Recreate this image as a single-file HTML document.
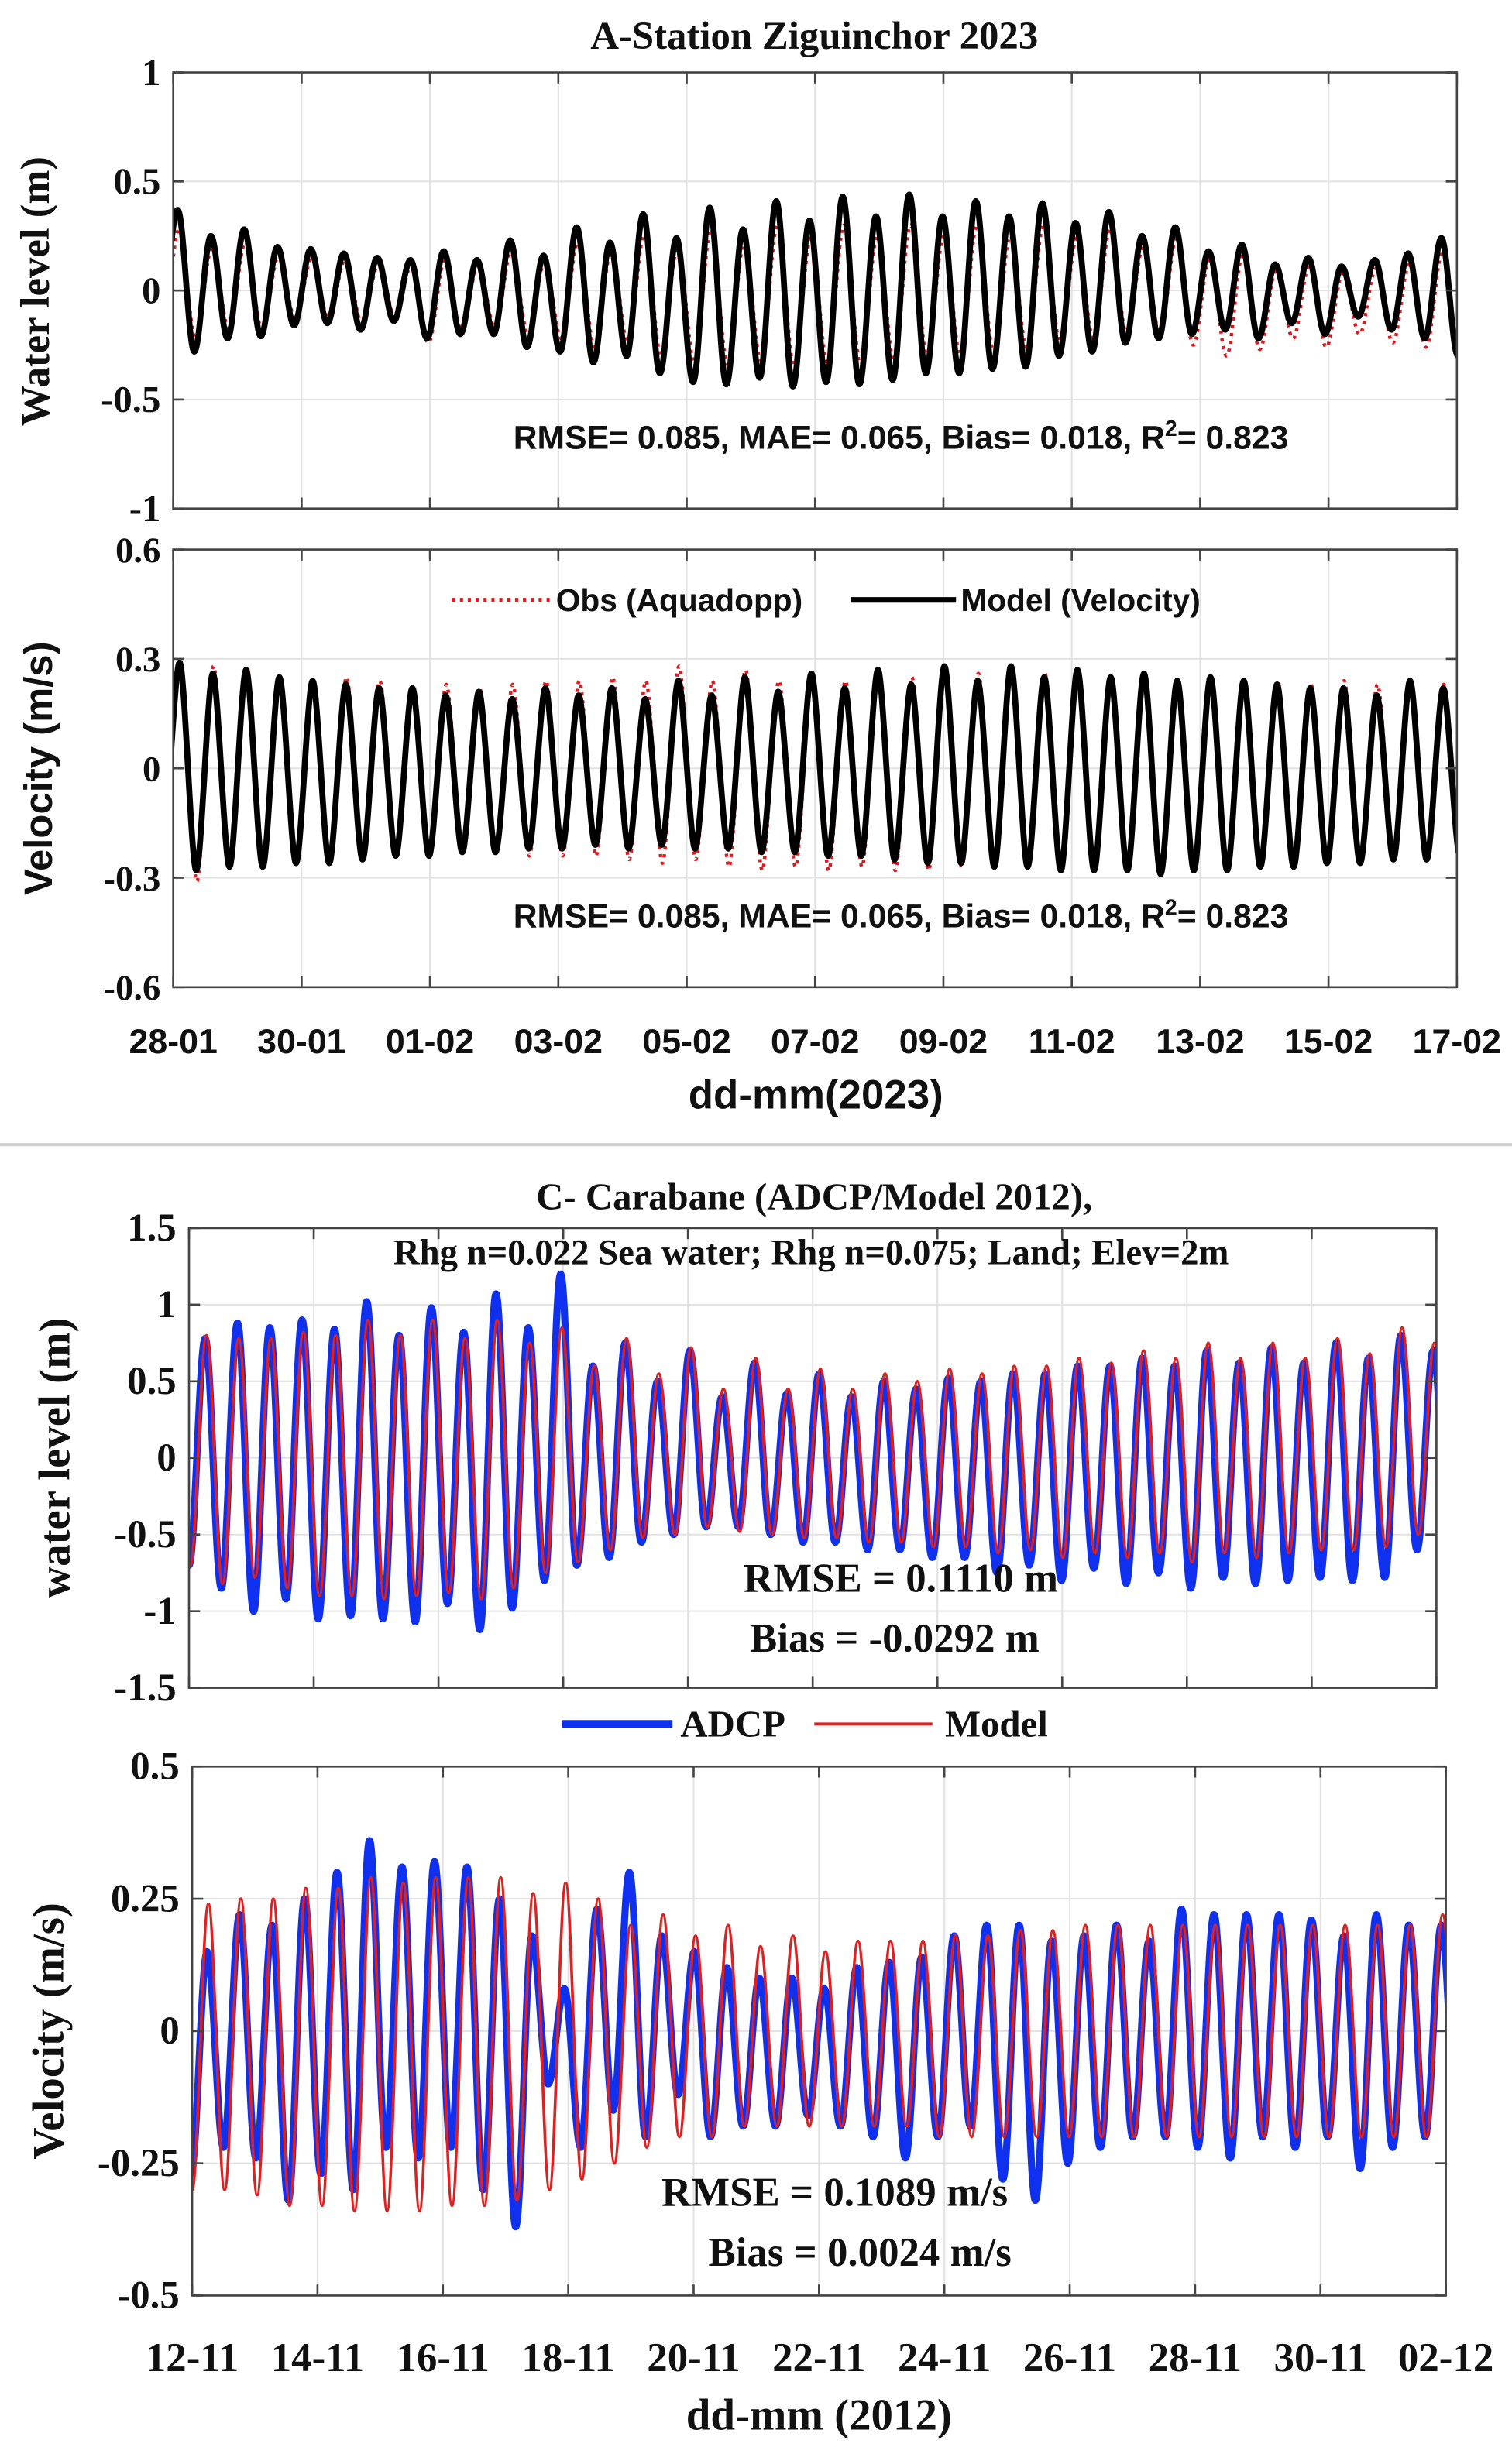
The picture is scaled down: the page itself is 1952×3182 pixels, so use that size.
<!DOCTYPE html>
<html><head><meta charset="utf-8"><style>
html,body{margin:0;padding:0;background:#fff;}
svg{display:block;}
.ser{font-family:"Liberation Serif",serif;font-weight:bold;}
.san{font-family:"Liberation Sans",sans-serif;font-weight:bold;}
</style></head><body>
<svg id="fig" xmlns="http://www.w3.org/2000/svg" width="1952" height="3182" viewBox="0 0 960 1565" preserveAspectRatio="none">
<rect x="0" y="0" width="960" height="1565" fill="#fff"/>
<line x1="0" y1="727" x2="960" y2="727" stroke="#d0d0d0" stroke-width="2"/>
<g id="layer"></g>
</svg>
<script>
// ---------- data ----------
const xTicksA = ["28-01","30-01","01-02","03-02","05-02","07-02","09-02","11-02","13-02","15-02","17-02"];
const xTicksC = ["12-11","14-11","16-11","18-11","20-11","22-11","24-11","26-11","28-11","30-11","02-12"];
const yTicksA1 = [1,0.5,0,-0.5,-1];
const yTickLabelsA1 = ["1","0.5","0","-0.5","-1"];
const yTicksA2 = [0.6,0.3,0,-0.3,-0.6];
const yTickLabelsA2 = ["0.6","0.3","0","-0.3","-0.6"];
const yTicksC1 = [1.5,1,0.5,0,-0.5,-1,-1.5];
const yTickLabelsC1 = ["1.5","1","0.5","0","-0.5","-1","-1.5"];
const yTicksC2 = [0.5,0.25,0,-0.25,-0.5];
const yTickLabelsC2 = ["0.5","0.25","0","-0.25","-0.5"];

const aWaterModelHigh = [0.37,0.25,0.28,0.20,0.19,0.17,0.15,0.14,0.18,0.14,0.23,0.16,0.29,0.22,0.35,0.24,0.38,0.28,0.41,0.32,0.43,0.34,0.44,0.34,0.41,0.34,0.40,0.31,0.36,0.25,0.29,0.18,0.21,0.12,0.15,0.11,0.14,0.17,0.24,0.2];
const aWaterModelLow = [-0.1,-0.28,-0.22,-0.21,-0.16,-0.15,-0.18,-0.14,-0.22,-0.20,-0.20,-0.26,-0.28,-0.33,-0.30,-0.38,-0.42,-0.43,-0.40,-0.44,-0.42,-0.43,-0.41,-0.38,-0.38,-0.36,-0.35,-0.30,-0.28,-0.24,-0.22,-0.20,-0.18,-0.22,-0.15,-0.20,-0.12,-0.18,-0.22,-0.30];
const aWaterObsHigh = [0.28,0.2,0.22,0.16,0.15,0.14,0.12,0.12,0.14,0.12,0.18,0.13,0.22,0.18,0.26,0.2,0.28,0.22,0.3,0.24,0.3,0.25,0.3,0.25,0.3,0.25,0.3,0.24,0.28,0.2,0.24,0.15,0.17,0.1,0.12,0.08,0.1,0.12,0.18,0.15];
const aWaterObsLow = [-0.2,-0.22,-0.18,-0.18,-0.13,-0.13,-0.15,-0.12,-0.24,-0.18,-0.17,-0.2,-0.22,-0.26,-0.24,-0.3,-0.33,-0.34,-0.32,-0.35,-0.33,-0.34,-0.32,-0.3,-0.3,-0.28,-0.27,-0.24,-0.22,-0.2,-0.2,-0.25,-0.3,-0.27,-0.22,-0.26,-0.2,-0.24,-0.26,-0.28];

const aVelModelHigh = [0.29,0.26,0.27,0.25,0.24,0.23,0.22,0.22,0.2,0.21,0.19,0.22,0.2,0.22,0.19,0.24,0.2,0.25,0.21,0.26,0.22,0.27,0.23,0.28,0.24,0.28,0.25,0.27,0.25,0.26,0.24,0.25,0.24,0.23,0.22,0.22,0.2,0.24,0.22,0.22];
const aVelModelLow = [-0.18,-0.28,-0.27,-0.27,-0.26,-0.26,-0.25,-0.24,-0.24,-0.23,-0.23,-0.22,-0.22,-0.21,-0.22,-0.21,-0.22,-0.22,-0.23,-0.23,-0.24,-0.24,-0.25,-0.26,-0.26,-0.27,-0.27,-0.28,-0.28,-0.28,-0.29,-0.28,-0.28,-0.27,-0.27,-0.26,-0.26,-0.25,-0.25,-0.24];
const aVelObsHigh = [0.27,0.28,0.28,0.25,0.24,0.25,0.24,0.22,0.23,0.22,0.23,0.24,0.24,0.25,0.24,0.28,0.24,0.27,0.24,0.25,0.24,0.27,0.25,0.27,0.26,0.27,0.26,0.26,0.25,0.25,0.24,0.24,0.23,0.24,0.23,0.24,0.23,0.23,0.23,0.22];
const aVelObsLow = [-0.2,-0.31,-0.28,-0.27,-0.26,-0.25,-0.25,-0.24,-0.23,-0.23,-0.22,-0.24,-0.24,-0.24,-0.25,-0.26,-0.25,-0.27,-0.28,-0.27,-0.28,-0.27,-0.28,-0.28,-0.27,-0.27,-0.26,-0.27,-0.27,-0.27,-0.27,-0.27,-0.26,-0.26,-0.25,-0.25,-0.25,-0.24,-0.24,-0.23];

const cWaterAdcpHigh = [0.78,0.88,0.85,0.9,0.84,1.02,0.8,0.98,0.82,1.07,0.85,1.2,0.6,0.75,0.5,0.7,0.4,0.62,0.42,0.55,0.4,0.5,0.45,0.52,0.5,0.55,0.55,0.6,0.6,0.65,0.6,0.7,0.62,0.72,0.62,0.75,0.65,0.8,0.7,0.6];
const cWaterAdcpLow = [-0.7,-0.85,-1.0,-0.92,-1.05,-1.03,-1.05,-1.07,-0.95,-1.12,-0.98,-0.8,-0.7,-0.65,-0.55,-0.5,-0.45,-0.45,-0.5,-0.55,-0.55,-0.6,-0.6,-0.65,-0.65,-0.75,-0.7,-0.8,-0.72,-0.82,-0.75,-0.85,-0.78,-0.82,-0.8,-0.78,-0.8,-0.78,-0.6,-0.6];
const cWaterModelHigh = [0.8,0.78,0.78,0.82,0.8,0.9,0.8,0.9,0.78,0.9,0.75,0.85,0.6,0.78,0.55,0.72,0.45,0.65,0.45,0.58,0.45,0.55,0.5,0.58,0.55,0.6,0.6,0.65,0.62,0.7,0.65,0.75,0.65,0.75,0.65,0.78,0.68,0.85,0.75,0.82];
const cWaterModelLow = [-0.7,-0.82,-0.78,-0.85,-0.9,-0.9,-0.92,-0.9,-0.88,-0.92,-0.85,-0.75,-0.68,-0.6,-0.52,-0.5,-0.45,-0.48,-0.5,-0.52,-0.52,-0.55,-0.55,-0.58,-0.58,-0.62,-0.6,-0.65,-0.62,-0.65,-0.62,-0.68,-0.62,-0.65,-0.62,-0.6,-0.6,-0.58,-0.5,-0.5];

const cVelAdcpHigh = [0.15,0.22,0.2,0.25,0.3,0.36,0.31,0.32,0.31,0.25,0.18,0.08,0.23,0.3,0.18,0.15,0.12,0.1,0.1,0.08,0.12,0.13,0.14,0.18,0.2,0.2,0.17,0.18,0.2,0.17,0.23,0.22,0.22,0.22,0.21,0.18,0.22,0.2,0.2,0.2];
const cVelAdcpLow = [-0.27,-0.22,-0.24,-0.32,-0.27,-0.3,-0.22,-0.24,-0.22,-0.3,-0.37,-0.1,-0.22,-0.15,-0.2,-0.12,-0.2,-0.18,-0.18,-0.16,-0.18,-0.2,-0.24,-0.2,-0.18,-0.28,-0.32,-0.25,-0.22,-0.2,-0.2,-0.22,-0.24,-0.2,-0.22,-0.2,-0.26,-0.22,-0.2,-0.2];
const cVelModelHigh = [0.24,0.25,0.25,0.27,0.27,0.29,0.28,0.29,0.29,0.29,0.26,0.28,0.25,0.2,0.22,0.18,0.2,0.16,0.18,0.15,0.17,0.17,0.17,0.18,0.18,0.19,0.19,0.2,0.2,0.2,0.2,0.2,0.2,0.2,0.2,0.2,0.2,0.2,0.22,0.2];
const cVelModelLow = [-0.3,-0.3,-0.31,-0.33,-0.33,-0.34,-0.34,-0.34,-0.33,-0.33,-0.32,-0.3,-0.28,-0.25,-0.22,-0.2,-0.2,-0.18,-0.18,-0.18,-0.18,-0.18,-0.18,-0.2,-0.2,-0.2,-0.2,-0.2,-0.2,-0.2,-0.2,-0.2,-0.2,-0.2,-0.2,-0.2,-0.2,-0.2,-0.2,-0.2];

// ---------- drawing ----------
const NS = "http://www.w3.org/2000/svg";
const layer = document.getElementById("layer");
const DAYS = 20, PERIOD = 20/38.6;
function el(tag, attrs, parent){ const e=document.createElementNS(NS,tag); for(const k in attrs) e.setAttribute(k,attrs[k]); (parent||layer).appendChild(e); return e; }
function txt(s, x, y, cls, size, anchor, parent){ const t=el("text",{x:x,y:y,"font-size":size,"text-anchor":anchor||"middle",class:cls,fill:"#111"},parent); t.textContent=s; return t; }

function makePanel(p){
  const g = el("g",{});
  
  
  p.sx = d => p.x0 + (d/DAYS)*(p.x1-p.x0);
  p.sy = v => p.y1 - (v-p.vmin)/(p.vmax-p.vmin)*(p.y1-p.y0);
  const grid = el("g",{},g);
  
  
  for(let i=0;i<p.xt.length;i++){ const x=p.sx(i*2); el("line",{x1:x,x2:x,y1:p.y0,y2:p.y1,stroke:"#e2e2e2","stroke-width":1},grid); }
  p.yt.forEach(v=>{ const y=p.sy(v); el("line",{x1:p.x0,x2:p.x1,y1:y,y2:y,stroke:"#e2e2e2","stroke-width":1},grid); });
  const cid = "clip-"+p.name;
  const cp = el("clipPath",{id:cid},g); el("rect",{x:p.x0,y:p.y0,width:p.x1-p.x0,height:p.y1-p.y0},cp);
  p.clip = "url(#"+cid+")";
  p.g = g;
  return g;
}
function finishPanel(p){
  const g = p.g;
  const ax = el("g",{},g);
  
  
  el("rect",{x:p.x0,y:p.y0,width:p.x1-p.x0,height:p.y1-p.y0,fill:"none",stroke:"#444","stroke-width":1.3},ax);
  p.yt.forEach((v,i)=>{ const y=p.sy(v);
    el("line",{x1:p.x0,x2:p.x0+7,y1:y,y2:y,stroke:"#444","stroke-width":1.3},ax);
    el("line",{x1:p.x1,x2:p.x1-7,y1:y,y2:y,stroke:"#444","stroke-width":1.3},ax);
    const t = txt(p.ytl[i], p.x0-8, y+8, "ser", p.yfs, "end", ax);
    
    
  });
  for(let i=0;i<p.xt.length;i++){ const x=p.sx(i*2);
    el("line",{x1:x,x2:x,y1:p.y1,y2:p.y1-7,stroke:"#444","stroke-width":1.3},ax);
    el("line",{x1:x,x2:x,y1:p.y0,y2:p.y0+7,stroke:"#444","stroke-width":1.3},ax);
    if(p.showX){ const t=txt(p.xt[i], x, p.xly, p.xcls, p.xfs, "middle", ax);
      
       }
  }
}
function series(p, highs, lows, tL, style, name, sharp){
  const pts = [];
  for(let i=0;i<lows.length;i++){
    pts.push([tL+i*PERIOD, lows[i]]);
    if(i<highs.length) pts.push([tL+i*PERIOD+PERIOD/2, highs[i]]);
  }
  const k = sharp||0.36;
  let d = "M"+p.sx(pts[0][0]).toFixed(2)+","+p.sy(pts[0][1]).toFixed(2);
  for(let i=1;i<pts.length;i++){
    const x0=p.sx(pts[i-1][0]), y0=p.sy(pts[i-1][1]), x1=p.sx(pts[i][0]), y1=p.sy(pts[i][1]);
    const dx=x1-x0;
    d += " C"+(x0+dx*k).toFixed(2)+","+y0.toFixed(2)+" "+(x1-dx*k).toFixed(2)+","+y1.toFixed(2)+" "+x1.toFixed(2)+","+y1.toFixed(2);
  }
  const path = el("path",Object.assign({d:d,fill:"none","clip-path":p.clip,"stroke-linejoin":"round"},style),p.g);
  
  
}

const A1 = {name:"panel-a-water-level",x0:110,x1:925,y0:46,y1:323,vmin:-1,vmax:1,xt:xTicksA,yt:yTicksA1,ytl:yTickLabelsA1,yfs:24,showX:false};
makePanel(A1);
series(A1, aWaterObsHigh, aWaterObsLow, -0.17, {stroke:"#e0191f","stroke-width":2.2,"stroke-dasharray":"2 3"}, "obs-water-level-line");
series(A1, aWaterModelHigh, aWaterModelLow, -0.19, {stroke:"#000","stroke-width":3.8}, "model-water-level-line");
finishPanel(A1);

const A2 = {name:"panel-a-velocity",x0:110,x1:925,y0:349,y1:627,vmin:-0.6,vmax:0.6,xt:xTicksA,yt:yTicksA2,ytl:yTickLabelsA2,yfs:23,showX:true,xly:669,xcls:"san",xfs:22};
makePanel(A2);
series(A2, aVelObsHigh, aVelObsLow, -0.15, {stroke:"#e0191f","stroke-width":2.2,"stroke-dasharray":"2 3"}, "obs-velocity-line", 0.3);
series(A2, aVelModelHigh, aVelModelLow, -0.16, {stroke:"#000","stroke-width":3.8}, "model-velocity-line", 0.3);
finishPanel(A2);

const C1 = {name:"panel-c-water-level",x0:120,x1:912,y0:780,y1:1072,vmin:-1.5,vmax:1.5,xt:xTicksC,yt:yTicksC1,ytl:yTickLabelsC1,yfs:25,showX:false};
makePanel(C1);
series(C1, cWaterAdcpHigh, cWaterAdcpLow, 0.0, {stroke:"#1030f0","stroke-width":4.5}, "adcp-water-level-line");
series(C1, cWaterModelHigh, cWaterModelLow, 0.02, {stroke:"#e02020","stroke-width":1.8}, "model-water-level-line-c");
finishPanel(C1);

const C2 = {name:"panel-c-velocity",x0:122,x1:918,y0:1122,y1:1458,vmin:-0.5,vmax:0.5,xt:xTicksC,yt:yTicksC2,ytl:yTickLabelsC2,yfs:25,showX:true,xly:1506,xcls:"ser",xfs:26};
makePanel(C2);
series(C2, cVelAdcpHigh, cVelAdcpLow, -0.02, {stroke:"#1030f0","stroke-width":4.5}, "adcp-velocity-line");
series(C2, cVelModelHigh, cVelModelLow, 0.0, {stroke:"#e02020","stroke-width":1.8}, "model-velocity-line-c");
finishPanel(C2);
</script>
<svg style="position:absolute;left:0;top:0" width="1952" height="3182" viewBox="0 0 960 1565" preserveAspectRatio="none" xmlns="http://www.w3.org/2000/svg">
<g font-family="Liberation Serif, serif" font-weight="bold" fill="#111">
<text x="517" y="31" font-size="25" text-anchor="middle">A-Station Ziguinchor 2023</text>
<text transform="translate(31,185) rotate(-90)" font-size="26" text-anchor="middle">Water level (m)</text>
<text x="517" y="768" font-size="24" text-anchor="middle">C- Carabane (ADCP/Model 2012),</text>
<text x="515" y="803" font-size="23" text-anchor="middle">Rhg n=0.022 Sea water; Rhg n=0.075; Land; Elev=2m</text>
<text transform="translate(44,926) rotate(-90)" font-size="28" text-anchor="middle">water level (m)</text>
<text transform="translate(40,1290) rotate(-90)" font-size="28" text-anchor="middle">Velocity (m/s)</text>
<text x="572" y="1011" font-size="26" text-anchor="middle">RMSE = 0.1110 m</text>
<text x="568" y="1049" font-size="26" text-anchor="middle">Bias = -0.0292 m</text>
<text x="530" y="1401" font-size="26" text-anchor="middle">RMSE = 0.1089 m/s</text>
<text x="546" y="1439" font-size="26" text-anchor="middle">Bias = 0.0024 m/s</text>
<text x="520" y="1543" font-size="28" text-anchor="middle">dd-mm (2012)</text>
<g>
<line x1="357" y1="1095" x2="427" y2="1095" stroke="#1030f0" stroke-width="5"/>
<text x="432" y="1103" font-size="24">ADCP</text>
<line x1="517" y1="1095" x2="592" y2="1095" stroke="#e02020" stroke-width="2"/>
<text x="600" y="1103" font-size="24">Model</text>
</g>
</g>
<g font-family="Liberation Sans, sans-serif" font-weight="bold" fill="#111">
<text transform="translate(33,488) rotate(-90)" font-size="25" text-anchor="middle">Velocity (m/s)</text>
<text x="572" y="285" font-size="21" text-anchor="middle">RMSE= 0.085, MAE= 0.065, Bias= 0.018, R<tspan dy="-8" font-size="14">2</tspan><tspan dy="8">= 0.823</tspan></text>
<text x="572" y="589" font-size="21" text-anchor="middle">RMSE= 0.085, MAE= 0.065, Bias= 0.018, R<tspan dy="-8" font-size="14">2</tspan><tspan dy="8">= 0.823</tspan></text>
<text x="518" y="704" font-size="26" text-anchor="middle">dd-mm(2023)</text>
<g>
<line x1="287" y1="381" x2="350" y2="381" stroke="#e0191f" stroke-width="2.5" stroke-dasharray="2 3"/>
<text x="353" y="388" font-size="20">Obs (Aquadopp)</text>
<line x1="540" y1="381" x2="607" y2="381" stroke="#000" stroke-width="3.5"/>
<text x="610" y="388" font-size="20">Model (Velocity)</text>
</g>
</g>
</svg>
</body></html>
